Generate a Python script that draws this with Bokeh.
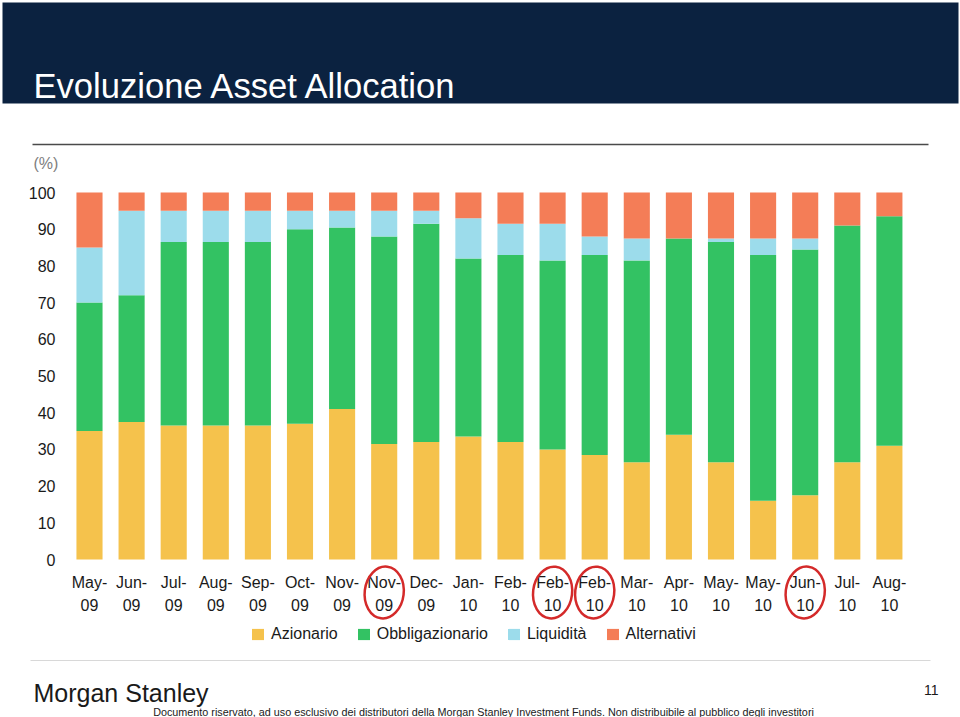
from bokeh.plotting import figure
from bokeh.models import Range1d, LinearAxis, FixedTicker, ColumnDataSource
from bokeh.core.properties import value
from bokeh.embed import file_html
from bokeh.resources import INLINE

# ---------------- data ----------------
tick_labels = ["May-09", "Jun-09", "Jul-09", "Aug-09", "Sep-09", "Oct-09", "Nov-09",
               "Nov-09", "Dec-09", "Jan-10", "Feb-10", "Feb-10", "Feb-10", "Mar-10",
               "Apr-10", "May-10", "May-10", "Jun-10", "Jul-10", "Aug-10"]
azionario = [35, 37.5, 36.5, 36.5, 36.5, 37, 41, 31.5, 32, 33.5,
             32, 30, 28.5, 26.5, 34, 26.5, 16, 17.5, 26.5, 31]
obbligazionario = [35, 34.5, 50, 50, 50, 53, 49.5, 56.5, 59.5, 48.5,
                   51, 51.5, 54.5, 55, 53.5, 60, 67, 67, 64.5, 62.5]
liquidita = [15, 23, 8.5, 8.5, 8.5, 5, 4.5, 7, 3.5, 11,
             8.5, 10, 5, 6, 0, 1, 4.5, 3, 0, 0]
alternativi = [15, 5, 5, 5, 5, 5, 5, 5, 5, 7,
               8.5, 8.5, 12, 12.5, 12.5, 12.5, 12.5, 12.5, 9, 6.5]
series_names = ["Azionario", "Obbligazionario", "Liquidità", "Alternativi"]
circled = [7, 11, 12, 17]
y_ticks = list(range(0, 101, 10))

colors = ["#F5C24C", "#33C263", "#9CDCEB", "#F47D57"]
FONT = "Liberation Sans"
TXT = "#1a1a1a"
W, H = 960, 717

xs = list(range(len(tick_labels)))
src = ColumnDataSource(dict(x=xs, az=azionario, ob=obbligazionario, li=liquidita, al=alternativi))

p = figure(width=W, height=H, x_range=Range1d(-2.114, 20.689), y_range=Range1d(-43.05, 152.32),
           x_axis_type=None, y_axis_type=None, output_backend="svg", toolbar_location=None,
           min_border=0)
p.outline_line_color = None
p.extra_x_ranges = {"px": Range1d(0, W)}
p.extra_y_ranges = {"px": Range1d(H, 0)}
PX = dict(x_range_name="px", y_range_name="px")

# ---------------- header (page decoration) ----------------
p.quad(left=[2], right=[958], top=[2], bottom=[103], fill_color="#0b2240", line_color=None, **PX)
p.text(x=[33], y=[85], text=["Evoluzione Asset Allocation"], text_color="white",
       text_font=value(FONT), text_font_size="34.6px", text_baseline="alphabetic", **PX)
p.line(x=[32, 928], y=[144, 144], line_color="#4a4a4a", line_width=1.3, **PX)
p.text(x=[33], y=[163], text=["(%)"], text_color="#808080", text_font=value(FONT),
       text_font_size="16px", text_baseline="middle", **PX)

# ---------------- chart ----------------
yaxis = LinearAxis(ticker=FixedTicker(ticks=y_ticks), axis_line_color=None,
                   major_tick_line_color=None, minor_tick_line_color=None,
                   major_tick_in=0, major_tick_out=0, major_label_standoff=-55,
                   major_label_text_font=FONT, major_label_text_font_size="16px",
                   major_label_text_color=TXT)
p.add_layout(yaxis, "left")

p.vbar_stack(["az", "ob", "li", "al"], x="x", width=0.62, source=src,
             fill_color=colors, line_color=None, legend_label=series_names)

tops = [s.split("-")[0] + "-" for s in tick_labels]
bottoms = [s.split("-")[1] for s in tick_labels]
p.text(x=xs, y=-6.27, text=tops, text_align="center", text_baseline="middle",
       text_font=value(FONT), text_font_size="16px", text_color=TXT)
p.text(x=xs, y=-12.26, text=bottoms, text_align="center", text_baseline="middle",
       text_font=value(FONT), text_font_size="16px", text_color=TXT)

p.ellipse(x=circled, y=-9.0, width=39, height=52, angle=-0.12,
          width_units="screen", height_units="screen",
          fill_color=None, line_color="#d42a2a", line_width=2.5)

lg = p.legend[0]
lg.location = (250, 74)
lg.orientation = "horizontal"
lg.glyph_width = 15
lg.glyph_height = 14
lg.label_height = 16
lg.label_standoff = 6
lg.spacing = 18
lg.padding = 0
lg.margin = 0
lg.border_line_color = None
lg.background_fill_alpha = 0
lg.label_text_font = FONT
lg.label_text_font_size = "16px"
lg.label_text_color = TXT

# ---------------- footer (page decoration) ----------------
p.line(x=[30, 930], y=[660, 660], line_color="#d8d8d8", line_width=1, **PX)
p.text(x=[33], y=[692], text=["Morgan Stanley"], text_color=TXT, text_font=value(FONT),
       text_font_size="25px", text_baseline="alphabetic", **PX)
p.text(x=[938], y=[689], text=["11"], text_color=TXT, text_font=value(FONT),
       text_font_size="14px", text_baseline="middle", text_align="right", **PX)
p.text(x=[483], y=[711], text=["Documento riservato, ad uso esclusivo dei distributori della Morgan Stanley Investment Funds. Non distribuibile al pubblico degli investitori"],
       text_color=TXT, text_font=value(FONT), text_font_size="10.8px",
       text_baseline="middle", text_align="center", **PX)

open("out.html", "w").write(file_html(p, INLINE))
